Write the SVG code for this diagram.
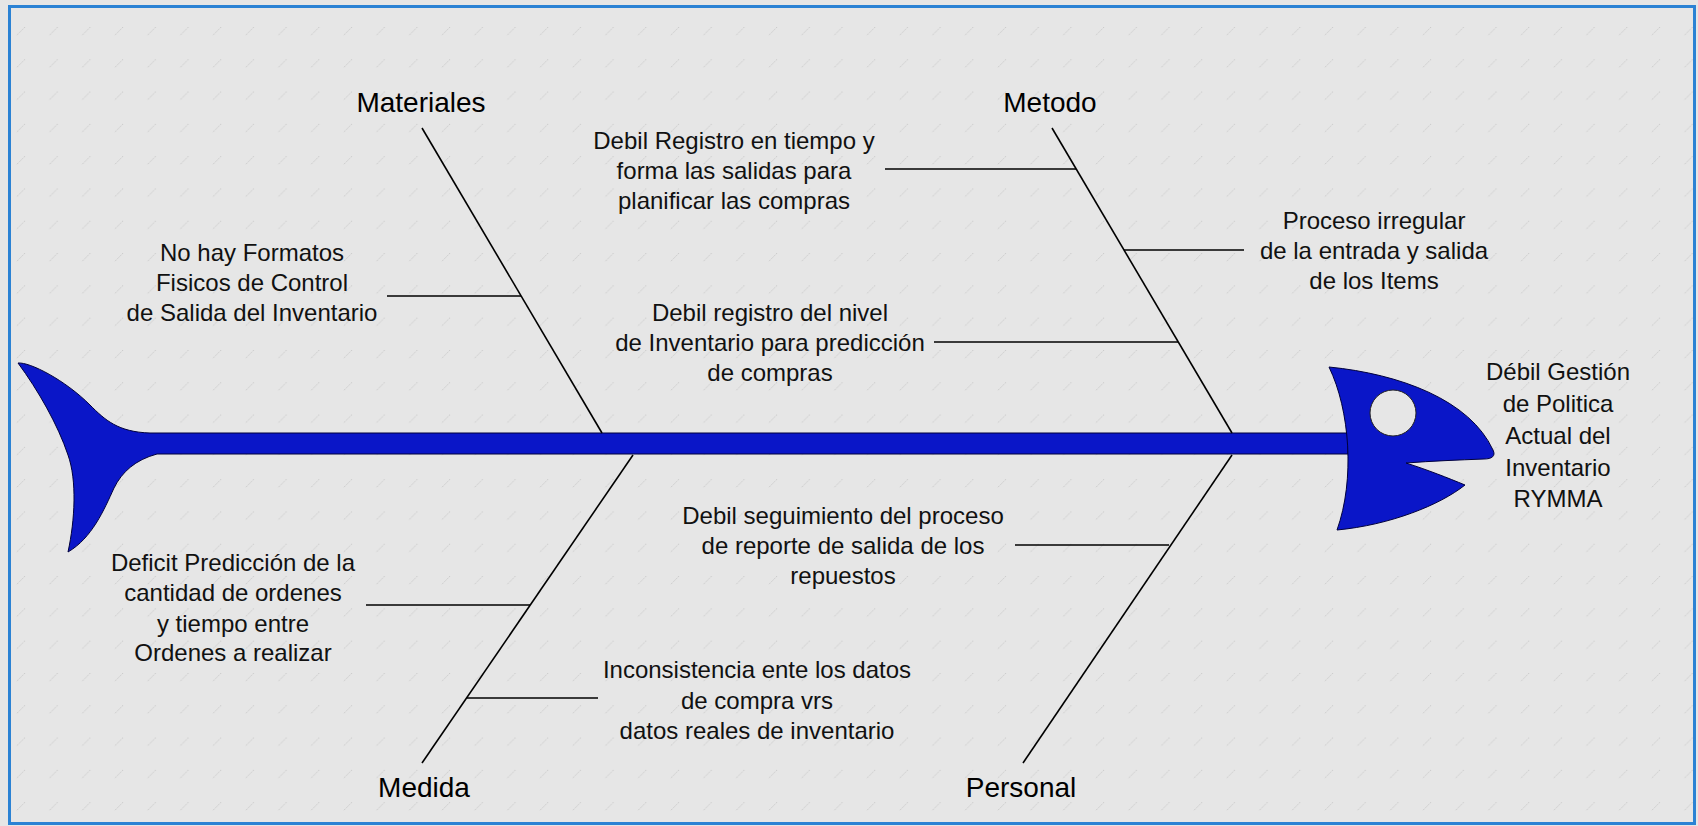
<svg xmlns="http://www.w3.org/2000/svg" width="1698" height="826" viewBox="0 0 1698 826">
<defs>
<style>
.bg{fill:#e6e6e6}
.frame{fill:none;stroke:#2b82d4;stroke-width:3}
.fish{fill:#0a16c8;stroke:#00003c;stroke-width:1}
.bone{stroke:#000;stroke-width:1.6;fill:none}
.cat{font-family:"Liberation Sans",Arial,sans-serif;font-size:28px;fill:#000;text-anchor:middle}
.cause{font-family:"Liberation Sans",Arial,sans-serif;font-size:24px;fill:#111;text-anchor:middle}
</style>
<pattern id="wm" patternUnits="userSpaceOnUse" x="16" y="26" width="32.7" height="32.3">
<path d="M1,9 L9,1" stroke="#c2c2c2" stroke-width="0.9" stroke-dasharray="1.5 1"/>
</pattern>
</defs>
<rect class="bg" x="0" y="0" width="1698" height="826"/>
<rect x="10" y="7" width="1684" height="816" fill="url(#wm)"/>
<rect class="frame" x="9.5" y="6.5" width="1685" height="817"/>

<g id="fish">
<path class="fish" d="M18,363 C30,362 65,380 90,405 C105,420 118,432 150,433 L1348,433 L1348,454 L157,454 C135,460 122,472 114,488 C104,510 92,538 68,552 C75,520 77,480 68,455 C58,425 38,390 18,363 Z"/>
<path class="fish" d="M1329,367 C1400,374 1470,400 1493,450 C1496,456 1492,459 1484,459 C1458,460 1432,461 1406,463 C1428,470 1448,478 1465,485 C1440,505 1390,525 1337,530 C1355,480 1350,410 1329,367 Z"/>
<circle cx="1393" cy="413" r="23" fill="#e6e6e6" stroke="#222" stroke-width="1"/>
</g>

<g id="connectors">
<line class="bone" x1="422" y1="128" x2="602" y2="433"/>
<line class="bone" x1="1052" y1="128" x2="1232" y2="433"/>
<line class="bone" x1="633" y1="455" x2="422" y2="763"/>
<line class="bone" x1="1232" y1="455" x2="1023" y2="763"/>
<line class="bone" x1="387" y1="296" x2="521" y2="296"/>
<line class="bone" x1="885" y1="169" x2="1076" y2="169"/>
<line class="bone" x1="1124" y1="250" x2="1244" y2="250"/>
<line class="bone" x1="934" y1="342" x2="1178" y2="342"/>
<line class="bone" x1="1015" y1="545" x2="1169" y2="545"/>
<line class="bone" x1="366" y1="605" x2="530" y2="605"/>
<line class="bone" x1="467" y1="698" x2="598" y2="698"/>
</g>

<g id="cat-materiales"><text class="cat" x="421" y="112">Materiales</text></g>
<g id="cat-metodo"><text class="cat" x="1050" y="112">Metodo</text></g>
<g id="cat-medida"><text class="cat" x="424" y="797">Medida</text></g>
<g id="cat-personal"><text class="cat" x="1021" y="797">Personal</text></g>

<g id="effect">
<text class="cause" x="1558" y="380">Débil Gestión</text>
<text class="cause" x="1558" y="412">de Politica</text>
<text class="cause" x="1558" y="444">Actual del</text>
<text class="cause" x="1558" y="476">Inventario</text>
<text class="cause" x="1558" y="507">RYMMA</text>
</g>

<g id="cause-formatos">
<text class="cause" x="252" y="261">No hay Formatos</text>
<text class="cause" x="252" y="291">Fisicos de Control</text>
<text class="cause" x="252" y="321">de Salida del Inventario</text>
</g>
<g id="cause-registro-tiempo">
<text class="cause" x="734" y="149">Debil Registro en tiempo y</text>
<text class="cause" x="734" y="179">forma las salidas para</text>
<text class="cause" x="734" y="209">planificar las compras</text>
</g>
<g id="cause-registro-nivel">
<text class="cause" x="770" y="321">Debil registro del nivel</text>
<text class="cause" x="770" y="351">de Inventario para predicción</text>
<text class="cause" x="770" y="381">de compras</text>
</g>
<g id="cause-proceso">
<text class="cause" x="1374" y="229">Proceso irregular</text>
<text class="cause" x="1374" y="259">de la entrada y salida</text>
<text class="cause" x="1374" y="289">de los Items</text>
</g>
<g id="cause-seguimiento">
<text class="cause" x="843" y="524">Debil seguimiento del proceso</text>
<text class="cause" x="843" y="554">de reporte de salida de los</text>
<text class="cause" x="843" y="584">repuestos</text>
</g>
<g id="cause-deficit">
<text class="cause" x="233" y="571">Deficit Predicción de la</text>
<text class="cause" x="233" y="601">cantidad de ordenes</text>
<text class="cause" x="233" y="632">y tiempo entre</text>
<text class="cause" x="233" y="661">Ordenes a realizar</text>
</g>
<g id="cause-inconsistencia">
<text class="cause" x="757" y="678">Inconsistencia ente los datos</text>
<text class="cause" x="757" y="709">de compra vrs</text>
<text class="cause" x="757" y="739">datos reales de inventario</text>
</g>
</svg>
